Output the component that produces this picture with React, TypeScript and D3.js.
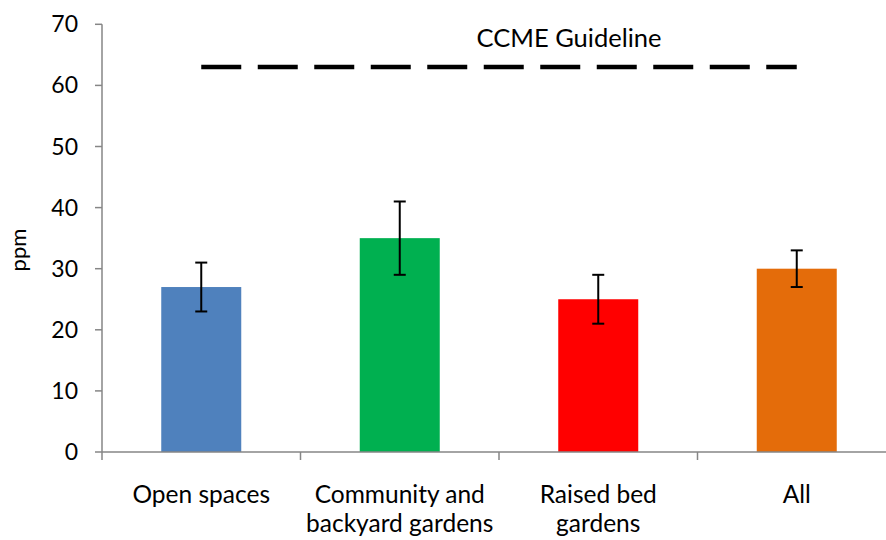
import React from 'react';
import * as d3 from 'd3';

const categories = ['Open spaces', 'Community and backyard gardens', 'Raised bed gardens', 'All'];
const labelLines = [['Open spaces'], ['Community and', 'backyard gardens'], ['Raised bed', 'gardens'], ['All']];
const means = [27, 35, 25, 30];
const lows = [23, 29, 21, 27];
const highs = [31, 41, 29, 33];
const colors = ['#4F81BD', '#00B050', '#FF0000', '#E46C0A'];
const yTicks = [0, 10, 20, 30, 40, 50, 60, 70];
const guideline = 63;

const FONT = "Lato, 'Open Sans', sans-serif";

export default function App() {
  const width = 886;
  const height = 540;
  const left = 102;
  const right = 896;
  const top = 24.3;
  const bottom = 452;

  const band = d3.scaleBand<string>().domain(categories).range([left, right]);
  const y = d3.scaleLinear().domain([0, 70]).range([bottom, top]);
  const center = (c: string) => band(c)! + band.bandwidth() / 2;

  const axisColor = '#868686';

  return (
    <svg width={width} height={height} style={{ position: 'absolute', left: 0, top: 0 }}>
      <rect width={width} height={height} fill="#fff" />
      {categories.map((c, i) => (
        <rect key={c} x={center(c) - 40} y={y(means[i])} width={80}
          height={y(0) - y(means[i])} fill={colors[i]} />
      ))}
      {categories.map((c, i) => {
        const cx = center(c);
        return (
          <g key={c} stroke="#000" strokeWidth={2}>
            <line x1={cx} x2={cx} y1={y(highs[i])} y2={y(lows[i])} />
            <line x1={cx - 6} x2={cx + 6} y1={y(highs[i])} y2={y(highs[i])} />
            <line x1={cx - 6} x2={cx + 6} y1={y(lows[i])} y2={y(lows[i])} />
          </g>
        );
      })}
      <line x1={center(categories[0])} x2={center(categories[3])} y1={y(guideline)} y2={y(guideline)}
        stroke="#000" strokeWidth={4.5} strokeDasharray="40 16.5" />
      <text x={569} y={47} textAnchor="middle" fontFamily={FONT} fontSize={25.5}>CCME Guideline</text>

      <line x1={left} x2={left} y1={top} y2={bottom} stroke={axisColor} strokeWidth={1.5} />
      {yTicks.map((t) => (
        <g key={t}>
          <line x1={left - 7} x2={left} y1={y(t)} y2={y(t)} stroke={axisColor} strokeWidth={1.5} />
          <text x={78} y={y(t)} dy="0.35em" textAnchor="end" fontFamily={FONT} fontSize={23}>{t}</text>
        </g>
      ))}
      <line x1={left} x2={right} y1={bottom} y2={bottom} stroke={axisColor} strokeWidth={1.5} />
      {categories.map((c) => (
        <line key={c} x1={band(c)!} x2={band(c)!} y1={bottom} y2={bottom + 8} stroke={axisColor} strokeWidth={1.5} />
      ))}
      {categories.map((c, i) => {
        const cx = center(c);
        return (
          <text key={c} x={cx} y={503} textAnchor="middle" fontFamily={FONT} fontSize={24.5}>
            {labelLines[i].map((l, j) => (
              <tspan key={j} x={cx} dy={j === 0 ? 0 : 29}>{l}</tspan>
            ))}
          </text>
        );
      })}
      <text transform={`translate(26, 250) rotate(-90)`} textAnchor="middle"
        fontFamily={FONT} fontSize={22}>ppm</text>
    </svg>
  );
}
